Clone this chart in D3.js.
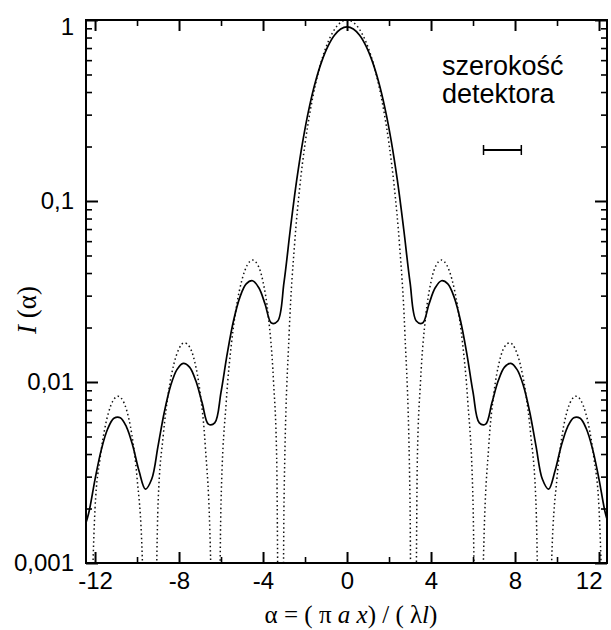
<!DOCTYPE html>
<html><head><meta charset="utf-8">
<script src="https://cdn.jsdelivr.net/npm/d3@7"></script>
<style>body{margin:0;background:#fff}</style>
</head><body>
<svg id="chart" width="611" height="630"></svg>
<script>
// Solid curve: measured intensity with finite detector width
const alphaSolid = [-12.6,-12.3,-12.0,-11.7,-11.4,-11.1,-10.8,-10.5,-10.2,-9.9,-9.6,-9.3,-9.0,-8.7,-8.4,-8.1,-7.8,-7.5,-7.2,-6.9,-6.6,-6.3,-6.0,-5.7,-5.4,-5.1,-4.8,-4.5,-4.2,-3.9,-3.6,-3.3,-3.0,-2.7,-2.4,-2.1,-1.8,-1.5,-1.2,-0.9,-0.6,-0.3,
  0,0.3,0.6,0.9,1.2,1.5,1.8,2.1,2.4,2.7,3.0,3.3,3.6,3.9,4.2,4.5,4.8,5.1,5.4,5.7,6.0,6.3,6.6,6.9,7.2,7.5,7.8,8.1,8.4,8.7,9.0,9.3,9.6,9.9,10.2,10.5,10.8,11.1,11.4,11.7,12.0,12.3,12.6];
const intensitySolid = [0.00145,0.00189,0.00290,0.00423,0.00550,0.00630,0.00635,0.00564,0.00443,0.00321,0.00256,0.00291,0.00442,0.00683,0.00953,0.01171,0.01268,0.01209,0.01015,0.00767,0.00585,0.00594,0.00879,0.01444,0.02193,0.02945,0.03483,0.03626,0.03315,0.02689,0.02117,0.02174,0.0356,0.0698,0.1294,0.2163,0.3281,0.4573,0.5925,0.7195,0.8235,0.8918,
  0.9156,0.8918,0.8235,0.7195,0.5925,0.4573,0.3281,0.2163,0.1294,0.0698,0.0356,0.02174,0.02117,0.02689,0.03315,0.03626,0.03483,0.02945,0.02193,0.01444,0.00879,0.00594,0.00585,0.00767,0.01015,0.01209,0.01268,0.01171,0.00953,0.00683,0.00442,0.00291,0.00256,0.00321,0.00443,0.00564,0.00635,0.00630,0.00550,0.00423,0.00290,0.00189,0.00145];

// Dotted curve: ideal point-detector intensity
const alphaDotted = [-12.5664,-12.0,-11.75,-11.5,-11.25,-11.0,-10.9,-10.75,-10.5,-10.25,-10.0,-9.75,-9.4248,-9.0,-8.75,-8.5,-8.25,-8.0,-7.75,-7.5,-7.25,-7.0,-6.75,-6.5,-6.2832,-6.0,-5.75,-5.5,-5.25,-5.0,-4.75,-4.5,-4.25,-4.0,-3.75,-3.5,-3.35,-3.1416,-3.0,-2.75,-2.5,-2.25,-2.0,-1.75,-1.5,-1.25,-1.0,-0.75,-0.5,-0.25,
  0,0.25,0.5,0.75,1.0,1.25,1.5,1.75,2.0,2.25,2.5,2.75,3.0,3.1416,3.35,3.5,3.75,4.0,4.25,4.5,4.75,5.0,5.25,5.5,5.75,6.0,6.2832,6.5,6.75,7.0,7.25,7.5,7.75,8.0,8.25,8.5,8.75,9.0,9.4248,9.75,10.0,10.25,10.5,10.75,10.9,11.0,11.25,11.5,11.75,12.0,12.5664];
const intensityDotted = [0.000001,0.001999,0.003846,0.005798,0.007404,0.008264,0.008340,0.008142,0.007019,0.005138,0.002960,0.001074,0.000001,0.002097,0.005087,0.008825,0.012506,0.015294,0.016470,0.015642,0.012889,0.008809,0.004445,0.001095,0.000001,0.002169,0.007832,0.016456,0.026767,0.036781,0.044258,0.047188,0.044347,0.035797,0.023231,0.010045,0.003815,0.000001,0.002213,0.01926,0.05731,0.11959,0.20671,0.31616,0.44222,0.57637,0.70807,0.82601,0.91940,0.97934,
  1.0,0.97934,0.91940,0.82601,0.70807,0.57637,0.44222,0.31616,0.20671,0.11959,0.05731,0.01926,0.002213,0.000001,0.003815,0.010045,0.023231,0.035797,0.044347,0.047188,0.044258,0.036781,0.026767,0.016456,0.007832,0.002169,0.000001,0.001095,0.004445,0.008809,0.012889,0.015642,0.016470,0.015294,0.012506,0.008825,0.005087,0.002097,0.000001,0.001074,0.002960,0.005138,0.007019,0.008142,0.008340,0.008264,0.007404,0.005798,0.003846,0.001999,0.000001];

const xTicksMajor = [-12,-8,-4,0,4,8,12];
const xTicksMinor = [-10,-6,-2,2,6,10];
const yTicksMajor = [0.001,0.01,0.1,1];
const yTickLabels = ["0,001","0,01","0,1","1"];
const yTicksMinor = [0.002,0.003,0.004,0.005,0.006,0.007,0.008,0.009,0.02,0.03,0.04,0.05,0.06,0.07,0.08,0.09,0.2,0.3,0.4,0.5,0.6,0.7,0.8,0.9];
const detectorBar = [6.5, 8.3];
const legendLines = ["szerokość","detektora"];

const L = 86, R = 607, T = 20, B = 563;
const svg = d3.select("#chart");
svg.append("rect").attr("width",611).attr("height",630).attr("fill","#fff");

const x = d3.scaleLinear().domain([-12.43, 12.38]).range([L, R]);
const y = d3.scaleLog().domain([0.001, 1]).range([B, T]);

svg.append("clipPath").attr("id","plotclip").append("rect")
  .attr("x",L).attr("y",T).attr("width",R-L).attr("height",B-T);

const plot = svg.append("g").attr("clip-path","url(#plotclip)");

const dottedData = alphaDotted.map((a,i)=>[a,intensityDotted[i]]);
const solidData = alphaSolid.map((a,i)=>[a,intensitySolid[i]]);

plot.append("path")
  .attr("d", d3.line().x(d=>x(d[0])).y(d=>y(d[1])).curve(d3.curveMonotoneX)(dottedData))
  .attr("fill","none").attr("stroke","#111").attr("stroke-width",1.5)
  .attr("stroke-dasharray","1.5 2.8");

plot.append("path")
  .attr("d", d3.line().x(d=>x(d[0])).y(d=>y(d[1])).curve(d3.curveCatmullRom.alpha(0.5))(solidData))
  .attr("fill","none").attr("stroke","#000").attr("stroke-width",1.7);

const font = "'Liberation Sans', Arial, sans-serif";
function styleAxis(g, w){
  g.select(".domain").remove();
  g.selectAll(".tick line").attr("stroke","#000").attr("stroke-width",w);
  g.selectAll("text").attr("font-family",font).attr("font-size",24).attr("fill","#000");
}
// bottom
const xb = svg.append("g").attr("transform",`translate(0,${B})`)
  .call(d3.axisBottom(x).tickValues(xTicksMajor).tickSize(-11).tickPadding(9).tickFormat(d=>d<0?"-"+Math.abs(d):String(d)))
  .call(g=>styleAxis(g,2));
// keep the last label inside the page
xb.selectAll(".tick text").filter(d=>d===12).attr("text-anchor","end").attr("x",610-R);
svg.append("g").attr("transform",`translate(0,${B})`)
  .call(d3.axisBottom(x).tickValues(xTicksMinor).tickSize(-6).tickFormat(""))
  .call(g=>styleAxis(g,1.6));
// top
svg.append("g").attr("transform",`translate(0,${T})`)
  .call(d3.axisTop(x).tickValues(xTicksMajor).tickSize(-11).tickFormat(""))
  .call(g=>styleAxis(g,2));
svg.append("g").attr("transform",`translate(0,${T})`)
  .call(d3.axisTop(x).tickValues(xTicksMinor).tickSize(-6).tickFormat(""))
  .call(g=>styleAxis(g,1.6));
// left
const yl = svg.append("g").attr("transform",`translate(${L},0)`)
  .call(d3.axisLeft(y).tickValues(yTicksMajor).tickSize(-12).tickPadding(12).tickFormat((d,i)=>yTickLabels[i]))
  .call(g=>styleAxis(g,2));
yl.selectAll(".tick text").filter(d=>d===1).attr("y",7);
svg.append("g").attr("transform",`translate(${L},0)`)
  .call(d3.axisLeft(y).tickValues(yTicksMinor).tickSize(-6).tickFormat(""))
  .call(g=>styleAxis(g,1.6));
// right
svg.append("g").attr("transform",`translate(${R},0)`)
  .call(d3.axisRight(y).tickValues(yTicksMajor).tickSize(-12).tickFormat(""))
  .call(g=>styleAxis(g,2));
svg.append("g").attr("transform",`translate(${R},0)`)
  .call(d3.axisRight(y).tickValues(yTicksMinor).tickSize(-6).tickFormat(""))
  .call(g=>styleAxis(g,1.6));

// frame
svg.append("rect").attr("x",L).attr("y",T).attr("width",R-L).attr("height",B-T)
  .attr("fill","none").attr("stroke","#000").attr("stroke-width",2);

// legend
const lg = svg.append("g");
legendLines.forEach((t,i)=>{
  lg.append("text").attr("x",442).attr("y",75+i*28).text(t)
    .attr("font-family",font).attr("font-size",27).attr("fill","#000");
});
const by = 150;
lg.append("line").attr("x1",x(detectorBar[0])).attr("x2",x(detectorBar[1])).attr("y1",by).attr("y2",by)
  .attr("stroke","#000").attr("stroke-width",2);
detectorBar.forEach(v=>{
  lg.append("line").attr("x1",x(v)).attr("x2",x(v)).attr("y1",by-5).attr("y2",by+5)
    .attr("stroke","#000").attr("stroke-width",1.5);
});

// axis titles
const serif = "'Liberation Serif', 'DejaVu Serif', 'Times New Roman', serif";
const xt = svg.append("text").attr("x",351).attr("y",623).attr("text-anchor","middle")
  .attr("font-family",serif).attr("font-size",25).attr("fill","#000");
[["α = ( π ",false],["a",true],[" ",false],["x",true],[") / ( λ",false],["l",true],[")",false]].forEach(([t,it])=>{
  xt.append("tspan").text(t).attr("font-style",it?"italic":"normal");
});
const yt = svg.append("text").attr("transform","translate(36,310) rotate(-90)").attr("text-anchor","middle")
  .attr("font-family",serif).attr("font-size",27).attr("fill","#000");
yt.append("tspan").text("I").attr("font-style","italic");
yt.append("tspan").text(" (α)");
</script>
</body></html>
